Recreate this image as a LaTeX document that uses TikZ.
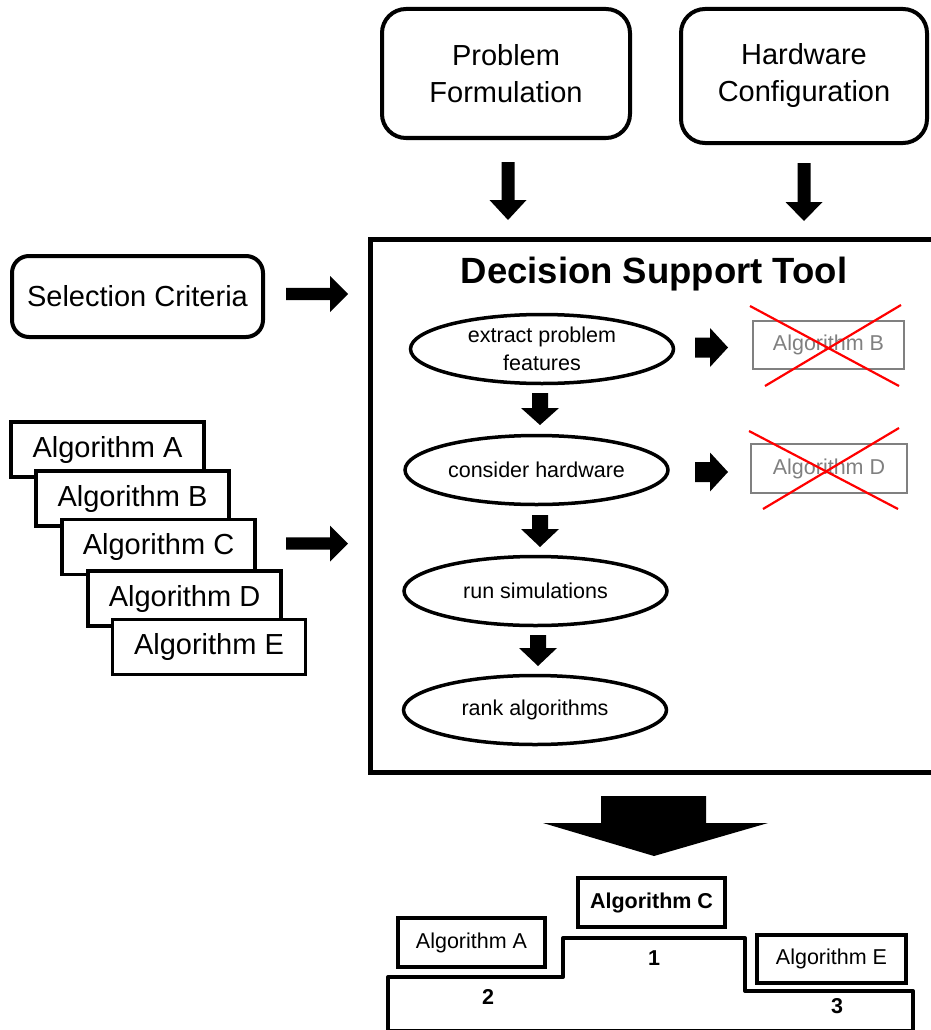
\documentclass[tikz,border=0pt]{standalone}
\usepackage{fontspec}
\setmainfont{Liberation Sans}
\usetikzlibrary{shapes.geometric}
\definecolor{boxgray}{RGB}{128,128,128}
\newcommand\FSz[2]{\fontsize{#1}{#2}\selectfont}
% down block arrow: x center, top y, head base y, tip y, half shaft, half head
\newcommand\BlkDown[6]{\fill[black] ({#1-#5},#2) -- ({#1+#5},#2) -- ({#1+#5},#3) -- ({#1+#6},#3) -- (#1,#4) -- ({#1-#6},#3) -- ({#1-#5},#3) -- cycle;}
% right block arrow: y center, left x, head base x, tip x, half shaft, half head
\newcommand\BlkRight[6]{\fill[black] (#2,{#1-#5}) -- (#3,{#1-#5}) -- (#3,{#1-#6}) -- (#4,#1) -- (#3,{#1+#6}) -- (#3,{#1+#5}) -- (#2,{#1+#5}) -- cycle;}
\begin{document}
\begin{tikzpicture}[x=1pt,y=-1pt,
  rbox/.style={draw, line width=4, rounded corners=24, align=center, font=\FSz{29}{37}},
  algbox/.style={draw, line width=3.5, fill=white, minimum width=193, minimum height=55, inner sep=0, font=\FSz{29}{34}},
  stepell/.style={draw, ellipse, line width=3.5, minimum width=263, minimum height=69, align=center, inner sep=0, font=\FSz{21.5}{28}},
  graybox/.style={draw=boxgray, line width=2.2, text=boxgray, inner sep=0, font=\FSz{21.5}{25}},
  podbox/.style={draw, line width=3.5, fill=white, inner sep=0, font=\FSz{21.5}{25}},
  cross/.style={draw=red, line width=2.2},
  numlab/.style={font=\bfseries\FSz{21.5}{25}, inner sep=0},
]
\useasboundingbox (0,0) rectangle (930,1030);

% top inputs
\node[rbox, minimum width=248, minimum height=129] (pf) at (506,73.5) {Problem\\Formulation};
\node[rbox, minimum width=246, minimum height=134] (hc) at (804,76) {Hardware\\Configuration};
\BlkDown{508}{162}{200}{220}{6.5}{18.5}
\BlkDown{804}{163}{202}{221}{6.5}{18.5}

% decision support tool frame
\node[draw, line width=4.5, minimum width=572, minimum height=533, anchor=north west, inner sep=0] (dst) at (368,237) {};
\node[font=\bfseries\FSz{36.5}{40}, anchor=base, inner sep=0] (title) at (654,283) {Decision Support Tool};

% selection criteria
\node[rbox, rounded corners=17, minimum width=251, minimum height=81] (sc) at (137.5,296.5) {Selection Criteria};
\BlkRight{294}{286}{330}{348}{6.2}{18}

% algorithm stack
\node[algbox] (aA) at (107.5,449.5) {Algorithm A};
\node[algbox] (aB) at (132.5,498.5) {Algorithm B};
\node[algbox] (aC) at (158.5,547) {Algorithm C};
\node[algbox] (aD) at (184.5,598.5) {Algorithm D};
\node[algbox] (aE) at (209,647) {Algorithm E};
\BlkRight{543.5}{286}{330}{348}{6.2}{18}

% steps inside the tool
\node[stepell] (s1) at (542,349) {extract problem\\features};
\node[stepell] (s2) at (536.5,470) {consider hardware};
\node[stepell] (s3) at (535.5,591) {run simulations};
\node[stepell] (s4) at (535,710) {rank algorithms};
\BlkDown{540}{393}{408}{425}{8}{19}
\BlkDown{540}{515}{529}{547}{8}{19}
\BlkDown{538}{635}{648}{666}{8}{19}

% eliminated algorithms
\BlkRight{347.5}{695}{710}{728}{10}{19.5}
\BlkRight{472}{695}{710}{728}{10}{19.5}
\node[graybox, minimum width=151, minimum height=48] (xB) at (828.5,345) {Algorithm B};
\node[graybox, minimum width=156, minimum height=49] (xD) at (829,468.5) {Algorithm D};
\coordinate (b1) at (750,306); \coordinate (b2) at (899,386);
\coordinate (b3) at (765,386); \coordinate (b4) at (901,305);
\coordinate (d1) at (749,431); \coordinate (d2) at (898,509);
\coordinate (d3) at (763,509); \coordinate (d4) at (899,428);
\draw[cross] (b1) -- (b2);
\draw[cross] (b3) -- (b4);
\draw[cross] (d1) -- (d2);
\draw[cross] (d3) -- (d4);

% result arrow
\fill[black] (601,796) -- (706,796) -- (706,823) -- (768,823) -- (654,856) -- (543,823) -- (601,823) -- cycle;

% podium
\draw[line width=4, line join=round] (388,1031) -- (388,977) -- (563,977) -- (563,938) -- (745,938) -- (745,991) -- (913,991) -- (913,1031) -- cycle;
\node[numlab] (n1) at (654,958) {1};
\node[numlab] (n2) at (488,997) {2};
\node[numlab] (n3) at (837,1006) {3};
\node[podbox, minimum width=147, minimum height=49] (pA) at (471.5,942.5) {Algorithm A};
\node[podbox, minimum width=147, minimum height=49, font=\bfseries\FSz{21.5}{25}] (pC) at (651.5,902.5) {Algorithm C};
\node[podbox, minimum width=149, minimum height=48] (pE) at (831.5,959) {Algorithm E};
\end{tikzpicture}
\end{document}
